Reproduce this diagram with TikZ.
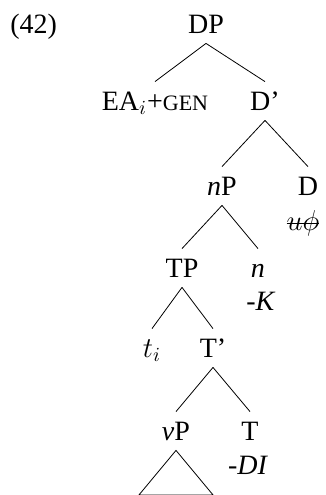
\documentclass[tikz,border=0pt]{standalone}
\usepackage{fontspec}
\setmainfont{Liberation Serif}[ItalicFont={Liberation Serif Italic}, BoldFont={Liberation Serif Bold}]
\newcommand\strk[1]{\setbox0\hbox{#1}\rlap{\rule[0.22em]{\wd0}{0.45pt}}\box0}
\begin{document}
\begin{tikzpicture}[x=0.5pt, y=-0.5pt,
  cat/.style={anchor=base, inner xsep=0pt, inner ysep=5pt, text height=9pt, text depth=0pt, font=\fontsize{14pt}{16pt}\selectfont},
  feat/.style={anchor=base, inner sep=0pt, font=\fontsize{14pt}{16pt}\selectfont}]
\useasboundingbox (0,0) rectangle (326,495);
\node[feat, anchor=base west] (ex) at (10,33) {(42)};
\node[cat] (dp) at (206,33) {DP};
\node[cat] (ea) at (155,110) {EA$_i$+{\fontsize{11pt}{13pt}\selectfont GEN}};
\node[cat] (dbar) at (265,110) {D'};
\node[cat] (np) at (222,195) {\textit{n}P};
\node[cat] (d) at (308,195) {D};
\node[feat] (dfeat) at (303,230) {\strk{$u\phi$}};
\node[cat] (tp) at (182,277) {TP};
\node[cat] (n) at (258,277) {\textit{n}};
\node[feat] (nfeat) at (261,310) {\textit{-K}};
\node[cat] (trace) at (152,357) {$t_i$};
\node[cat] (tbar) at (213,357) {T'};
\node[cat] (vp) at (176,440) {\textit{v}P};
\node[cat] (t) at (250,440) {T};
\node[feat] (tfeat) at (248,474) {\textit{-DI}};
\draw (dp.south) -- (ea.north);
\draw (dp.south) -- (dbar.north);
\draw (dbar.south) -- (np.north);
\draw (dbar.south) -- (d.north);
\draw (np.south) -- (tp.north);
\draw (np.south) -- (n.north);
\draw (tp.south) -- (trace.north);
\draw (tp.south) -- (tbar.north);
\draw (tbar.south) -- (vp.north);
\draw (tbar.south) -- (t.north);
\draw (vp.south) -- ++(-37,44.5) -- ++(74,0) -- cycle;
\end{tikzpicture}
\end{document}
